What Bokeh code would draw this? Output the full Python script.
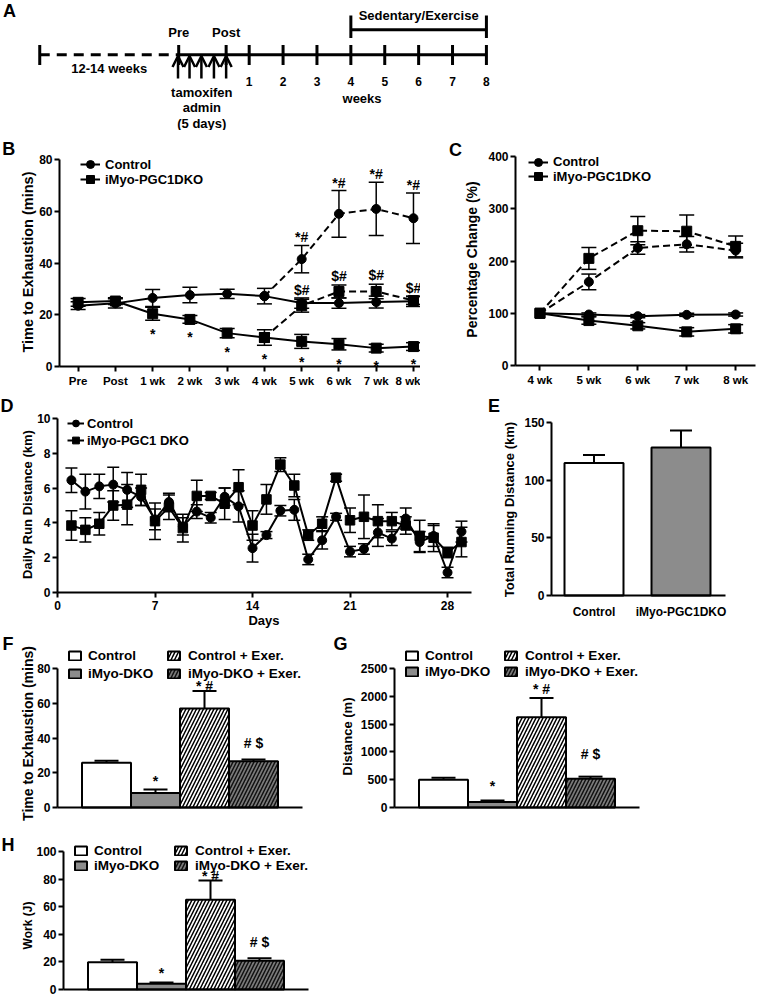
import math
from bokeh.plotting import figure
from bokeh.models import (Range1d, FixedTicker, Legend, LegendItem, Whisker, TeeHead,
                          ColumnDataSource, Label, Arrow, OpenHead)
from bokeh.layouts import column, row
from bokeh.core.properties import value
from bokeh.embed import file_html
from bokeh.resources import INLINE

FONT = "Liberation Sans"

# ======================= DATA =======================
# Panel A: study timeline (positions in weeks)
tl_labels = ["Pre", "Post", "1", "2", "3", "4", "5", "6", "7", "8"]
tl_pos = [-1.08, 0.32, 1, 2, 3, 4, 5, 6, 7, 8]
tl_start = -5.18
tamox_pos = [-1.10, -0.76, -0.41, -0.04, 0.32]
ex_period = [4, 8]

# Panel B: time to exhaustion (mins)
b_ticks = ["Pre", "Post", "1 wk", "2 wk", "3 wk", "4 wk", "5 wk", "6 wk", "7 wk", "8 wk"]
b_ctrl = [23.5, 24.4, 26.5, 27.6, 28.1, 27.2, 24.5, 24.5, 24.9, 25.2]
b_ctrl_err = [1.5, 1.8, 3.3, 3.0, 1.8, 3.0, 2.0, 2.0, 2.3, 2.0]
b_dko = [24.8, 25.3, 20.4, 18.2, 12.9, 11.2, 9.7, 8.6, 7.1, 7.7]
b_dko_err = [1.5, 1.3, 2.5, 1.5, 1.8, 3.0, 2.7, 2.2, 1.5, 1.5]
b_ex_idx = [5, 6, 7, 8, 9]
b_ctrl_ex = [27.2, 41.5, 59.0, 60.9, 57.3]
b_ctrl_ex_err = [0, 5.3, 9.0, 10.3, 9.8]
b_dko_ex = [11.2, 23.5, 29.0, 29.0, 25.5]
b_dko_ex_err = [0, 2.5, 2.5, 2.8, 1.5]
b_dko_sig = ["", "", "*", "*", "*", "*", "*", "*", "*", "*"]
b_ctrl_ex_sig = ["", "*#", "*#", "*#", "*#"]
b_dko_ex_sig = ["", "$#", "$#", "$#", "$#"]

# Panel C: percentage change (%)
c_ticks = ["4 wk", "5 wk", "6 wk", "7 wk", "8 wk"]
c_ctrl = [100, 97.6, 94.4, 97.0, 97.6]
c_ctrl_err = [0, 3, 3, 3, 3]
c_dko = [100, 86, 76, 64.4, 70.2]
c_dko_err = [0, 7, 6, 8, 8]
c_ctrl_ex = [100, 160, 225, 232, 220]
c_ctrl_ex_err = [0, 15, 12, 15, 14]
c_dko_ex = [100, 205, 258, 257, 228]
c_dko_ex_err = [0, 21, 27, 31, 20]

# Panel D: daily run distance (km)
d_days = list(range(1, 30))
d_ctrl = [6.45, 5.8, 6.1, 6.2, 5.9, 5.5, 4.2, 5.2, 3.8, 4.65, 4.3, 5.5, 4.95, 2.55, 3.3,
          4.7, 4.75, 1.9, 3.0, 4.35, 2.35, 2.5, 3.45, 3.1, 4.25, 2.9, 3.25, 1.15, 3.5]
d_ctrl_err = [0.7, 1.0, 0.7, 1.0, 1.0, 0.5, 0.6, 0.5, 0.5, 0.4, 0.3, 0.5, 0.9, 0.8, 0.2,
              0.3, 0.6, 0.3, 0.5, 0.2, 0.3, 0.3, 0.8, 0.4, 0.6, 0.6, 0.6, 0.3, 0.6]
d_dko = [3.85, 3.6, 3.95, 5.0, 5.05, 5.9, 4.1, 4.9, 3.7, 5.55, 5.55, 5.1, 6.05, 3.85, 5.35,
         7.35, 6.15, 3.3, 3.95, 6.6, 4.15, 4.35, 4.1, 4.1, 3.85, 3.25, 3.15, 2.3, 2.9]
d_dko_err = [0.85, 0.7, 0.65, 0.85, 1.15, 0.9, 1.05, 0.7, 0.8, 0.9, 0.2, 0.9, 1.0, 0.85, 0.85,
             0.4, 0.65, 0.3, 0.4, 0.2, 0.7, 1.25, 0.95, 0.5, 0.5, 0.9, 0.8, 0.3, 0.85]

# Panel E: total running distance (km)
e_groups = ["Control", "iMyo-PGC1DKO"]
e_vals = [114.8, 128.4]
e_err = [7.0, 14.7]
e_fill = ["white", "#8c8c8c"]

# Panels F-H: four groups
bar_groups = ["Control", "iMyo-DKO", "Control + Exer.", "iMyo-DKO + Exer."]
bar_fill = ["white", "#8c8c8c", "white", "#7a7a7a"]
bar_hatch = [" ", " ", "/", "/"]
bar_hatch_color = ["black", "black", "black", "#111111"]
bar_sig = ["", "*", "* #", "# $"]

f_vals = [25.7, 8.4, 57.0, 26.6]
f_err = [1.2, 2.0, 10.0, 1.0]
g_vals = [500, 101, 1623, 519]
g_err = [37, 24, 346, 36]
h_vals = [19.7, 4.2, 65.0, 20.9]
h_err = [1.8, 0.8, 14.0, 1.8]


# ======================= HELPERS =======================
def xrng(c0, c1, ax_px, ax_val, k):
    """x range so that value ax_val sits at pixel ax_px (k px per unit) on a canvas c0..c1"""
    return Range1d(ax_val + (c0 - ax_px) / k, ax_val + (c1 - ax_px) / k)


def yrng(top, bottom, zero_px, k):
    return Range1d((zero_px - bottom) / k, (zero_px - top) / k)


def base_fig(w, h, xr, yr):
    p = figure(width=w, height=h, x_range=xr, y_range=yr,
               output_backend="svg", toolbar_location=None, min_border=0)
    p.outline_line_color = None
    p.xgrid.visible = False
    p.ygrid.visible = False
    return p


def style_axis(ax, loc, bounds, ticks, tick_size="12px", tick_standoff=2, tick_out=5):
    ax.fixed_location = loc
    ax.bounds = bounds
    ax.ticker = FixedTicker(ticks=ticks)
    ax.axis_line_width = 2
    ax.axis_line_color = "black"
    ax.major_tick_line_width = 2
    ax.major_tick_line_color = "black"
    ax.major_tick_out = tick_out
    ax.major_tick_in = 0
    ax.minor_tick_line_color = None
    ax.major_label_text_font = FONT
    ax.major_label_text_font_style = "bold"
    ax.major_label_text_font_size = tick_size
    ax.major_label_text_color = "black"
    ax.major_label_standoff = tick_standoff


def add_label(p, s, sx, sy, size="14px", angle=0.0):
    p.add_layout(Label(x=sx, y=sy, x_units="screen", y_units="screen", text=s,
                       angle=angle, text_font=FONT, text_font_style="bold",
                       text_font_size=size, text_align="center", text_baseline="middle",
                       text_color="black"))


def add_letter(p, s, sx, sy):
    add_label(p, s, sx, sy, size="18px")


def add_ylabel(p, s, sx, sy, size="14px"):
    add_label(p, s, sx, sy, size=size, angle=math.pi / 2)


def add_text(p, source, size="13px", **kw):
    return p.text(x="x", y="y", text="t", source=source, text_font=value(FONT),
                  text_font_style="bold", text_font_size=size, text_align="center",
                  text_baseline="middle", text_color="black", **kw)


def add_err(p, x, y, e, cap, both=True, lw=1.5):
    xs, lo, hi = [], [], []
    for xi, yi, ei in zip(x, y, e):
        if ei > 0:
            xs.append(xi)
            hi.append(yi + ei)
            lo.append(yi - ei if both else yi)
    src = ColumnDataSource(dict(x=xs, lo=lo, hi=hi))
    w = Whisker(source=src, base="x", lower="lo", upper="hi", dimension="height",
                line_color="black", line_width=lw,
                upper_head=TeeHead(size=cap, line_width=lw, line_color="black"),
                lower_head=(TeeHead(size=cap, line_width=lw, line_color="black") if both else None))
    p.add_layout(w)


def add_series(p, x, y, marker, dash="solid", size=9):
    lr = p.line(x, y, line_color="black", line_width=2, line_dash=dash)
    sr = p.scatter(x, y, marker=marker, size=size, fill_color="black", line_color="black")
    return lr, sr


def add_legend_item(p, item, loc, glyph_w, glyph_h, standoff, size="13px", label_h=13):
    leg = Legend(items=[item], location=loc, orientation="vertical",
                 glyph_width=glyph_w, glyph_height=glyph_h, spacing=0,
                 label_standoff=standoff, label_height=label_h, padding=0, margin=0,
                 border_line_color=None, background_fill_alpha=0,
                 label_text_font=FONT, label_text_font_style="bold",
                 label_text_font_size=size, label_text_color="black")
    p.add_layout(leg)


# ======================= PANEL A =======================
pA = figure(width=759, height=130, x_range=Range1d(-6.338, 16.058), y_range=Range1d(130, 0),
            output_backend="svg", toolbar_location=None, min_border=0)
pA.xaxis.visible = False
pA.yaxis.visible = False
pA.xgrid.visible = False
pA.ygrid.visible = False
pA.outline_line_color = None
line_y = 54.3
pA.segment(x0=[tl_start], y0=[line_y], x1=[tl_pos[0]], y1=[line_y],
           line_width=3, line_dash="10 7", line_color="black")
pA.segment(x0=[tl_pos[0]], y0=[line_y], x1=[tl_pos[-1]], y1=[line_y],
           line_width=3, line_color="black")
tick_x = [tl_start] + tl_pos
pA.segment(x0=tick_x, y0=[44.5] * len(tick_x), x1=tick_x, y1=[64.5] * len(tick_x),
           line_width=3, line_color="black")
arr_src = ColumnDataSource(dict(x0=tamox_pos, y0=[78] * len(tamox_pos),
                                x1=tamox_pos, y1=[55.5] * len(tamox_pos)))
pA.add_layout(Arrow(source=arr_src, x_start="x0", y_start="y0", x_end="x1", y_end="y1",
                    line_width=2.5, line_color="black",
                    end=OpenHead(size=11, line_width=2.5, line_color="black")))
pA.segment(x0=[ex_period[0]], y0=[29.3], x1=[ex_period[1]], y1=[29.3],
           line_width=3, line_color="black")
pA.segment(x0=ex_period, y0=[15, 15], x1=ex_period, y1=[37.5, 37.5],
           line_width=3, line_color="black")
add_text(pA, ColumnDataSource(dict(x=tl_pos[:2], y=[31.7, 31.7], t=tl_labels[:2])))
add_text(pA, ColumnDataSource(dict(x=tl_pos[2:], y=[81] * 8, t=tl_labels[2:])), size="12px")
mid_tam = sum(tamox_pos) / len(tamox_pos)
add_text(pA, ColumnDataSource(dict(
    x=[(tl_start + tl_pos[0]) / 2, 4.33, mid_tam, mid_tam, mid_tam, sum(ex_period) / 2],
    y=[68.3, 98.3, 91.7, 106.7, 122.7, 15],
    t=["12-14 weeks", "weeks", "tamoxifen", "admin", "(5 days)", "Sedentary/Exercise"])))
add_letter(pA, "A", 9, 120)

# ======================= PANEL B =======================
bx = list(range(len(b_ticks)))
pB = base_fig(420, 262, xrng(0, 420, 59, -0.5, 37.26), yrng(130, 392, 366, 207 / 80))
style_axis(pB.xaxis[0], 0, (-0.5, 9.19), bx, tick_size="11.5px", tick_standoff=3)
style_axis(pB.yaxis[0], -0.5, (0, 80), [0, 20, 40, 60, 80])
pB.xaxis[0].major_label_overrides = {x: t for x, t in zip(bx, b_ticks)}
add_ylabel(pB, "Time to Exhaustion (mins)", 27.5, 130.5, "14.5px")
bex_x = [bx[i] for i in b_ex_idx]
add_err(pB, bx, b_ctrl, b_ctrl_err, 15)
add_err(pB, bx, b_dko, b_dko_err, 15)
add_err(pB, bex_x, b_ctrl_ex, b_ctrl_ex_err, 15)
add_err(pB, bex_x, b_dko_ex, b_dko_ex_err, 15)
lbc, sbc = add_series(pB, bx, b_ctrl, "circle", size=9)
lbd, sbd = add_series(pB, bx, b_dko, "square", size=10)
add_series(pB, bex_x, b_ctrl_ex, "circle", dash="7 4", size=9)
add_series(pB, bex_x, b_dko_ex, "square", dash="7 4", size=10)
add_text(pB, ColumnDataSource(dict(x=bx, y=[v - e for v, e in zip(b_dko, b_dko_err)], t=b_dko_sig)),
         size="14px", y_offset=14)
add_text(pB, ColumnDataSource(dict(x=bex_x, y=[v + e for v, e in zip(b_ctrl_ex, b_ctrl_ex_err)],
                                   t=b_ctrl_ex_sig)), size="14px", y_offset=-8)
add_text(pB, ColumnDataSource(dict(x=bex_x, y=[v + e for v, e in zip(b_dko_ex, b_dko_ex_err)],
                                   t=b_dko_ex_sig)), size="14px", y_offset=-9)
add_legend_item(pB, LegendItem(label="Control", renderers=[lbc, sbc]), (80, 217), 20, 22, 5)
add_legend_item(pB, LegendItem(label="iMyo-PGC1DKO", renderers=[lbd, sbd]), (80, 201.7), 20, 22, 5)
add_letter(pB, "B", 8.3, 243.7)

# ======================= PANEL C =======================
cx = list(range(len(c_ticks)))
pC = base_fig(339, 262, xrng(420, 759, 515, -0.5, 48.92), yrng(130, 392, 365, 209 / 400))
style_axis(pC.xaxis[0], 0, (-0.5, 4.406), cx, tick_size="11.5px", tick_standoff=3)
style_axis(pC.yaxis[0], -0.5, (0, 400), [0, 100, 200, 300, 400])
pC.xaxis[0].major_label_overrides = {x: t for x, t in zip(cx, c_ticks)}
add_ylabel(pC, "Percentage Change (%)", 51, 133, "14px")
add_err(pC, cx, c_ctrl, c_ctrl_err, 15)
add_err(pC, cx, c_dko, c_dko_err, 15)
add_err(pC, cx, c_ctrl_ex, c_ctrl_ex_err, 15)
add_err(pC, cx, c_dko_ex, c_dko_ex_err, 15)
lcc, scc = add_series(pC, cx, c_ctrl, "circle", size=9)
lcd, scd = add_series(pC, cx, c_dko, "square", size=10)
add_series(pC, cx, c_ctrl_ex, "circle", dash="7 4", size=9)
add_series(pC, cx, c_dko_ex, "square", dash="7 4", size=10)
add_legend_item(pC, LegendItem(label="Control", renderers=[lcc, scc]), (108, 219.3), 20, 22, 5)
add_legend_item(pC, LegendItem(label="iMyo-PGC1DKO", renderers=[lcd, scd]), (108, 205), 20, 22, 5)
add_letter(pC, "C", 35, 243)

# ======================= PANEL D =======================
pD = base_fig(475, 242, xrng(0, 475, 57, 0, 13.93), yrng(392, 634, 592, 17.4))
style_axis(pD.xaxis[0], 0, (0, 29.72), [0, 7, 14, 21, 28], tick_standoff=3)
style_axis(pD.yaxis[0], 0, (0, 10), [0, 2, 4, 6, 8, 10])
add_label(pD, "Days", 263.5, 14, "13px")
add_ylabel(pD, "Daily Run Distance (km)", 26.7, 130, "13px")
add_err(pD, d_days, d_ctrl, d_ctrl_err, 12)
add_err(pD, d_days, d_dko, d_dko_err, 12)
ldc, sdc = add_series(pD, d_days, d_ctrl, "circle", size=9)
ldd, sdd = add_series(pD, d_days, d_dko, "square", size=9.5)
add_legend_item(pD, LegendItem(label="Control", renderers=[ldc, sdc]), (67, 199.7), 17, 22, 3)
add_legend_item(pD, LegendItem(label="iMyo-PGC1 DKO", renderers=[ldd, sdd]), (67, 183), 17, 22, 3)
add_letter(pD, "D", 6.5, 229)

# ======================= PANEL E =======================
ex = list(range(len(e_groups)))
pE = base_fig(284, 242, xrng(475, 759, 551, -0.4885, 87), yrng(392, 634, 595, 173 / 150))
style_axis(pE.xaxis[0], 0, (-0.4885, 1.5115), ex, tick_standoff=9, tick_out=0)
style_axis(pE.yaxis[0], -0.4885, (0, 150), [0, 50, 100, 150])
pE.xaxis[0].major_label_overrides = {x: t for x, t in zip(ex, e_groups)}
add_ylabel(pE, "Total Running Distance (km)", 34, 125, "13px")
add_err(pE, ex, e_vals, e_err, 22, both=False, lw=2)
pE.vbar(x=ex, top=e_vals, width=0.678, fill_color=e_fill, line_color="black", line_width=2)
add_letter(pE, "E", 18.5, 229)


# ======================= PANELS F-H =======================
def bar_panel(w, h, xr, yr, ymax, yticks, vals, errs, sig_off, ylabel,
              label_size, label_pos, leg_y, leg_x, letter, letter_pos):
    xs = list(range(1, len(bar_groups) + 1))
    p = base_fig(w, h, xr, yr)
    style_axis(p.xaxis[0], 0, (0, 5), [])
    style_axis(p.yaxis[0], 0, (0, ymax), yticks)
    add_ylabel(p, ylabel, label_pos[0], label_pos[1], label_size)
    add_err(p, xs, vals, errs, 24, both=False, lw=2)
    src = ColumnDataSource(dict(x=xs, top=vals, fill=bar_fill, hatch=bar_hatch,
                                hcol=bar_hatch_color))
    r = p.vbar(x="x", top="top", width=1.0, source=src, fill_color="fill",
               hatch_pattern="hatch", hatch_color="hcol", hatch_scale=7, hatch_weight=1.5,
               line_color="black", line_width=2)
    tsrc = ColumnDataSource(dict(x=xs, y=[v + e for v, e in zip(vals, errs)], t=bar_sig,
                                 off=sig_off))
    add_text(p, tsrc, size="14px", y_offset="off")
    for i, g in enumerate(bar_groups):
        col, rw = divmod(i, 2)
        add_legend_item(p, LegendItem(label=g, renderers=[r], index=i),
                        (leg_x[col], leg_y[rw]), 15, 11, 6 if col == 0 else 7,
                        size="13.5px", label_h=18)
    add_letter(p, letter, *letter_pos)
    return p


pF = bar_panel(330, 196, xrng(0, 330, 57, 0, 49), yrng(634, 830, 807, 139 / 80),
               80, [0, 20, 40, 60, 80], f_vals, f_err,
               [0, -8, -5, -17], "Time to Exhaustion (mins)", "14px", (27, 97),
               (165.3, 147.7), (67, 166), "F", (7.5, 187))
pG = bar_panel(429, 196, xrng(330, 759, 394, 0, 49), yrng(634, 830, 807, 139 / 2500),
               2500, [0, 500, 1000, 1500, 2000, 2500], g_vals, g_err,
               [0, -15, -9, -23], "Distance (m)", "13px", (17, 94),
               (165.3, 149.3), (74, 173), "G", (10, 187))
pH = bar_panel(330, 167, xrng(0, 330, 63, 0, 49), yrng(830, 997, 989, 138 / 100),
               100, [0, 20, 40, 60, 80, 100], h_vals, h_err,
               [0, -10, -4, -16], "Work (J)", "12px", (27.5, 72),
               (138, 123), (73, 173), "H", (7.5, 153))

layout = column(pA, row(pB, pC), row(pD, pE), row(pF, pG), row(pH))

open("out.html", "w").write(file_html(layout, INLINE))
